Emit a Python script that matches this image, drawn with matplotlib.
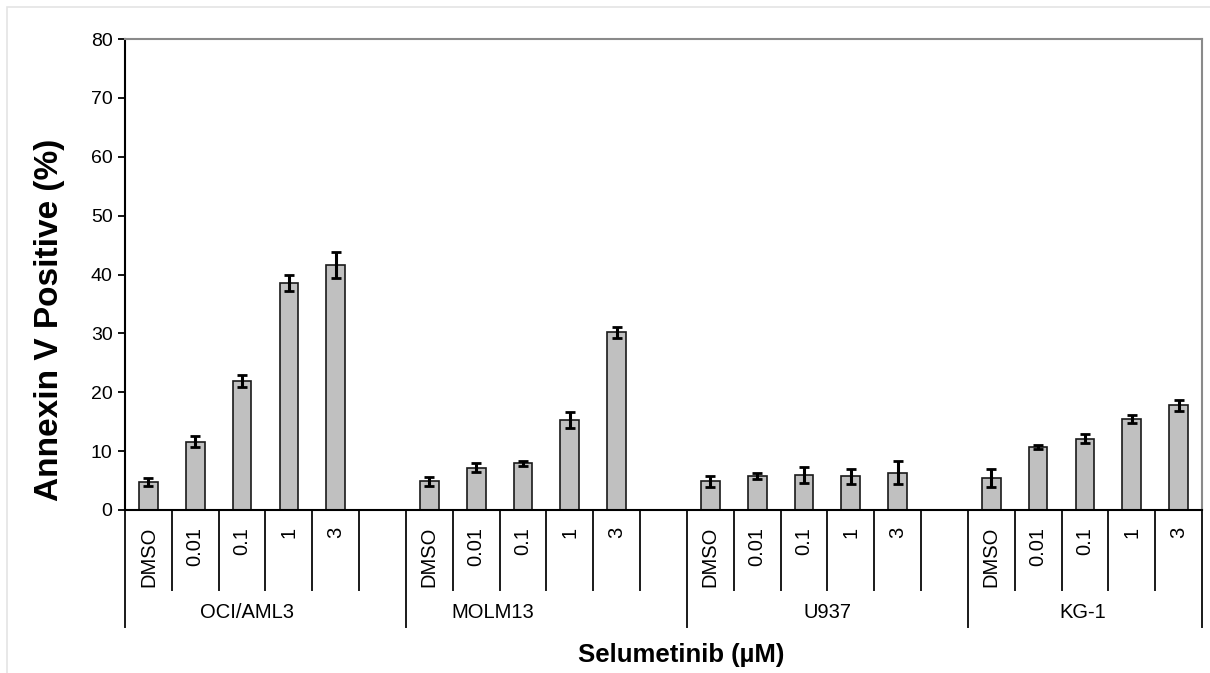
import matplotlib
matplotlib.use("Agg")
import matplotlib.pyplot as plt
import matplotlib.transforms as mtransforms
from matplotlib.patches import Rectangle

plt.rcParams['font.family'] = ['Liberation Sans', 'DejaVu Sans']

# data
cell_lines = ['OCI/AML3', 'MOLM13', 'U937', 'KG-1']
doses = ['DMSO', '0.01', '0.1', '1', '3']
annexin = [
    [4.7, 11.6, 21.9, 38.6, 41.6],
    [4.9, 7.2, 7.9, 15.3, 30.2],
    [4.9, 5.7, 6.0, 5.7, 6.3],
    [5.4, 10.7, 12.1, 15.5, 17.8],
]
annexin_err = [
    [0.7, 0.9, 1.0, 1.35, 2.2],
    [0.75, 0.7, 0.5, 1.4, 0.95],
    [0.95, 0.5, 1.35, 1.25, 1.95],
    [1.5, 0.3, 0.8, 0.65, 0.95],
]
# where the group names sit (in slot units)
group_label_x = [2.1, 7.35, 14.5, 19.95]

fig = plt.figure(figsize=(12.1, 6.73), dpi=100)
ax = fig.add_axes([125/1210, 1-510/673, (1202-125)/1210, (510-39)/673])

# light frame round the picture (left and top edges visible)
fig.patches.append(Rectangle((7/1210, -0.05), 1.0, 1.05-7/673, transform=fig.transFigure,
                             fill=False, edgecolor='#e4e4e4', linewidth=1.2))

slots_per_group = len(doses) + 1
n_slots = len(cell_lines) * slots_per_group - 1

xs, ys, es, labels = [], [], [], []
for g in range(len(cell_lines)):
    for d in range(len(doses)):
        xs.append(g * slots_per_group + d)
        ys.append(annexin[g][d])
        es.append(annexin_err[g][d])
        labels.append(doses[d])

ax.bar(xs, ys, width=0.4, color='#c0c0c0', edgecolor='#1a1a1a', linewidth=1.2, zorder=2)
ax.errorbar(xs, ys, yerr=es, fmt='none', ecolor='black', elinewidth=2.2,
            capsize=3.6, capthick=2.0, zorder=3)

ax.set_xlim(-0.5, n_slots - 0.5)
ax.set_ylim(0, 80)
ax.set_yticks(range(0, 81, 10))
ax.tick_params(axis='y', labelsize=14, direction='out', length=5, width=1.3, pad=4)
ax.set_xticks([])

for s in ['left', 'bottom']:
    ax.spines[s].set_color('black')
    ax.spines[s].set_linewidth(1.5)
for s in ['top', 'right']:
    ax.spines[s].set_color('#8a8a8a')
    ax.spines[s].set_linewidth(1.5)

# category axis drawn below the plot
trans = mtransforms.blended_transform_factory(ax.transData, ax.transAxes)
h = ax.get_position().height * 673
short = -80 / h
long_ = -117 / h
for k in range(n_slots + 1):
    b = k - 0.5
    is_group = (k % slots_per_group == 0) or k == n_slots
    ax.plot([b, b], [0, long_ if is_group else short], color='#1a1a1a', lw=1.4,
            transform=trans, clip_on=False)

for x, lab in zip(xs, labels):
    ax.text(x, -17 / h, lab, rotation=90, ha='center', va='top', fontsize=14.5,
            transform=trans)

for x, name in zip(group_label_x, cell_lines):
    ax.text(x, -102 / h, name, ha='center', va='center', fontsize=14.5, transform=trans)

fig.text(681/1210, 1-655/673, 'Selumetinib (µM)', ha='center', va='center',
         fontsize=18.5, fontweight='bold')
fig.text(50/1210, 1-320/673, 'Annexin V Positive (%)', rotation=90, ha='center',
         va='center', fontsize=24, fontweight='bold')

fig.savefig('out.png', dpi=100)
